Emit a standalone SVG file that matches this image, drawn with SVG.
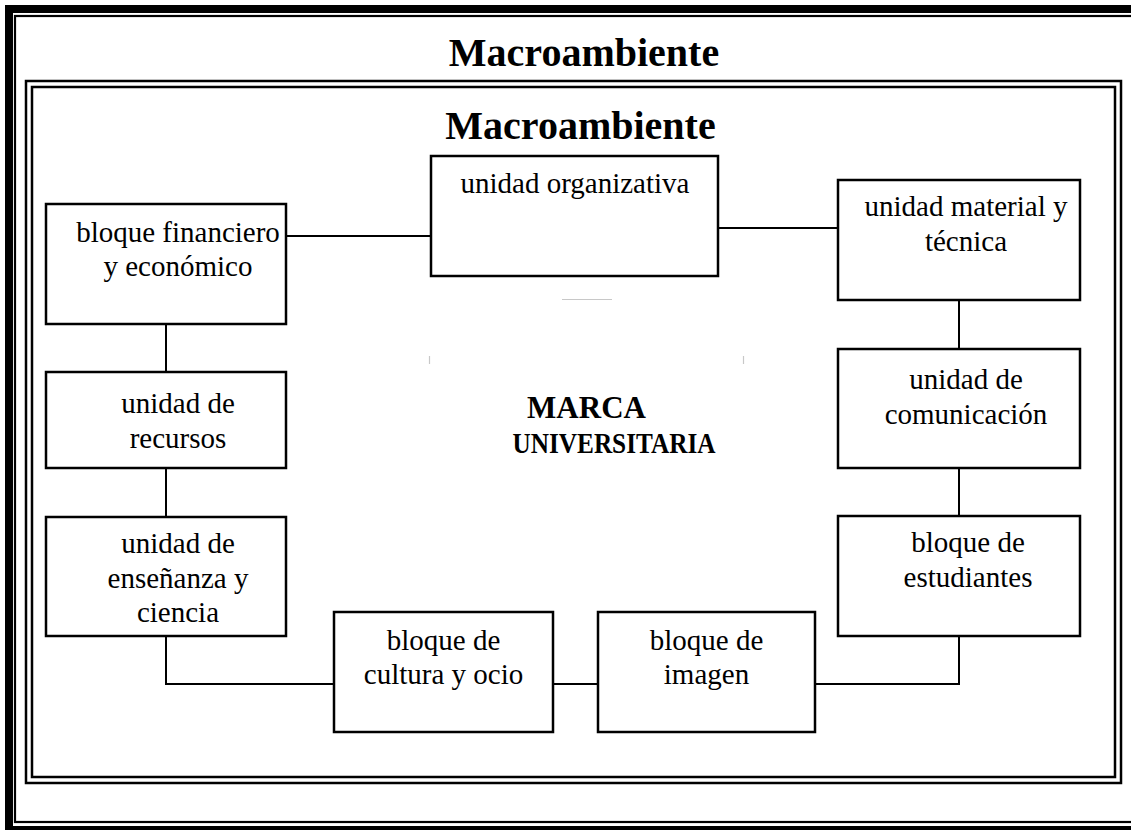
<svg xmlns="http://www.w3.org/2000/svg" width="1131" height="830" viewBox="0 0 1131 830">
<style>
.box{fill:#fff;stroke:#000;stroke-width:2.5}
.t{font-family:"Liberation Serif","Times New Roman",serif;font-size:29px;fill:#000;text-anchor:middle}
.b{font-family:"Liberation Serif","Times New Roman",serif;font-weight:bold;fill:#000;text-anchor:middle}
.c{fill:none;stroke:#000;stroke-width:2}
.f{fill:none;stroke:#000}
</style>
<rect width="1131" height="830" fill="#fff"/>
<g id="frames">
<rect class="f" x="9" y="9" width="1140" height="821" stroke-width="8"/>
<rect class="f" x="15" y="16" width="1130" height="806" stroke-width="2.2"/>
<rect class="f" x="26" y="81" width="1095" height="702" stroke-width="2.5"/>
<rect class="f" x="32" y="87" width="1083" height="690" stroke-width="2.5"/>
</g>
<text class="b" x="584" y="66" font-size="40">Macroambiente</text>
<text class="b" x="580.5" y="139" font-size="40">Macroambiente</text>
<g id="faint" stroke="#c8c8c8" stroke-width="1.2">
<line x1="562" y1="299.5" x2="612" y2="299.5"/>
<line x1="429.5" y1="356" x2="429.5" y2="364"/>
<line x1="743.5" y1="356" x2="743.5" y2="364"/>
</g>
<g id="connectors">
<line class="c" x1="286" y1="236" x2="431" y2="236"/>
<line class="c" x1="718" y1="228" x2="838" y2="228"/>
<line class="c" x1="166" y1="324" x2="166" y2="372"/>
<line class="c" x1="166" y1="468" x2="166" y2="517"/>
<polyline class="c" points="166,636 166,684 334,684"/>
<line class="c" x1="553" y1="684" x2="598" y2="684"/>
<polyline class="c" points="815,684 959,684 959,636"/>
<line class="c" x1="959" y1="300" x2="959" y2="349"/>
<line class="c" x1="959" y1="468" x2="959" y2="516"/>
</g>
<g id="n-financiero"><rect class="box" x="46" y="204" width="240" height="120"/>
<text class="t" x="178" y="242">bloque financiero</text><text class="t" x="178" y="276">y económico</text></g>
<g id="n-organizativa"><rect class="box" x="431" y="156" width="287" height="120"/>
<text class="t" x="575" y="193">unidad organizativa</text></g>
<g id="n-material"><rect class="box" x="838" y="180" width="242" height="120"/>
<text class="t" x="966" y="216">unidad material y</text><text class="t" x="966" y="251">técnica</text></g>
<g id="n-recursos"><rect class="box" x="46" y="372" width="240" height="96"/>
<text class="t" x="178" y="413">unidad de</text><text class="t" x="178" y="448">recursos</text></g>
<g id="n-comunicacion"><rect class="box" x="838" y="349" width="242" height="119"/>
<text class="t" x="966" y="389">unidad de</text><text class="t" x="966" y="424">comunicación</text></g>
<g id="n-ensenanza"><rect class="box" x="46" y="517" width="240" height="119"/>
<text class="t" x="178" y="553">unidad de</text><text class="t" x="178" y="588">enseñanza y</text><text class="t" x="178" y="622">ciencia</text></g>
<g id="n-estudiantes"><rect class="box" x="838" y="516" width="242" height="120"/>
<text class="t" x="968" y="552">bloque de</text><text class="t" x="968" y="587">estudiantes</text></g>
<g id="n-cultura"><rect class="box" x="334" y="612" width="219" height="120"/>
<text class="t" x="443.5" y="650">bloque de</text><text class="t" x="443.5" y="684">cultura y ocio</text></g>
<g id="n-imagen"><rect class="box" x="598" y="612" width="217" height="120"/>
<text class="t" x="706.5" y="650">bloque de</text><text class="t" x="706.5" y="684">imagen</text></g>
<g id="n-marca">
<text class="b" x="586.5" y="418" font-size="31">MARCA</text><text class="b" x="614" y="453" font-size="29" textLength="203" lengthAdjust="spacingAndGlyphs">UNIVERSITARIA</text></g>
</svg>
